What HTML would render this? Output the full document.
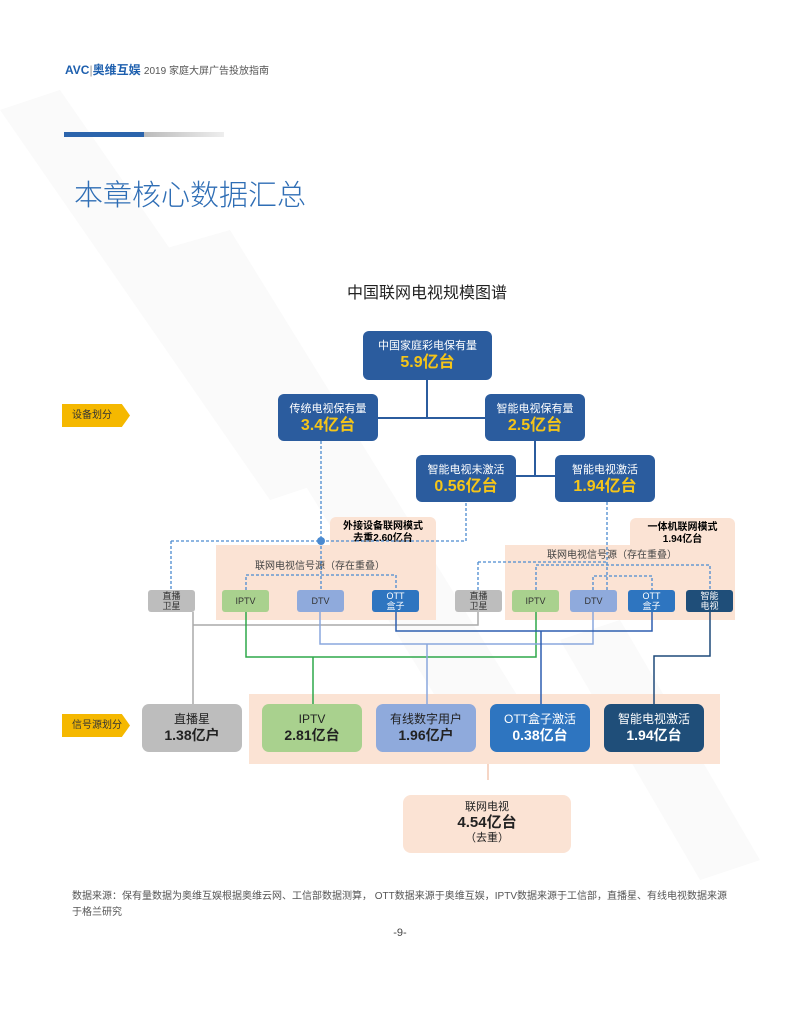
<!DOCTYPE html>
<html><head><meta charset="utf-8"><style>
body{margin:0;width:800px;height:1009px;background:#fff;position:relative;overflow:hidden;font-family:"Liberation Sans","Noto Sans CJK SC",sans-serif}
.a{position:absolute}
.b{position:absolute;border-radius:6px;text-align:center;box-sizing:border-box;color:#fff}
.n{background:#2b5c9e;font-size:11px;padding-top:8px;line-height:14px}
.n b{color:#f5c518;font-size:16px;display:block;line-height:20px}
.s{font-size:9px;line-height:10px;border-radius:3px;display:flex;align-items:center;justify-content:center;height:22px;width:47px;top:590px}
.bb{top:704px;height:48px;width:100px;font-size:12px;padding-top:8px;line-height:15px;border-radius:7px}
.bb b{font-size:14px;display:block;line-height:17px}
.peach{background:#fbe3d4}
.tag{position:absolute;width:68px;height:23px;background:#f5b800;color:#333;font-size:10px;line-height:23px;text-indent:10px;clip-path:polygon(0 0,88% 0,100% 50%,88% 100%,0 100%)}
</style></head><body>
<svg class="a" style="left:0;top:0" width="800" height="1009">
<polygon points="0,110 60,90 330,480 270,500" fill="#fafafa"/>
<polygon points="160,250 230,230 520,700 450,720" fill="#fafafa"/>
<polygon points="560,640 620,620 760,860 700,880" fill="#fafafa"/>
</svg>
<div class="a" style="left:65px;top:61px;font-size:12px;font-weight:bold;color:#1d5fae">AVC<span style="color:#999;font-weight:normal">|</span>奥维互娱 <span style="font-weight:normal;color:#555;font-size:10px">2019 家庭大屏广告投放指南</span></div>
<div class="a" style="left:64px;top:132px;width:80px;height:5px;background:#2b64ac"></div>
<div class="a" style="left:144px;top:132px;width:80px;height:5px;background:linear-gradient(90deg,#bbb,#eee)"></div>
<div class="a" style="left:74px;top:172px;font-size:29px;color:#2f6eb5;font-weight:300">本章核心数据汇总</div>
<div class="a" style="left:0;width:800px;top:279px;text-align:center;font-size:16px;color:#222;padding-left:54px;box-sizing:border-box">中国联网电视规模图谱</div>

<div class="a peach" style="left:216px;top:545px;width:220px;height:75px"></div>
<div class="a peach" style="left:330px;top:517px;width:106px;height:30px;border-radius:6px 6px 0 0;font-size:10px;font-weight:bold;text-align:center;line-height:12px;padding-top:4px;box-sizing:border-box">外接设备联网模式<br>去重2.60亿台</div>
<div class="a peach" style="left:505px;top:545px;width:230px;height:75px"></div>
<div class="a peach" style="left:630px;top:518px;width:105px;height:30px;border-radius:6px 6px 0 0;font-size:10px;font-weight:bold;text-align:center;line-height:12px;padding-top:4px;box-sizing:border-box">一体机联网模式<br>1.94亿台</div>
<div class="a" style="left:255px;top:557px;font-size:10px;color:#444">联网电视信号源（存在重叠）</div>
<div class="a" style="left:547px;top:546px;font-size:10px;color:#444">联网电视信号源（存在重叠）</div>
<div class="a peach" style="left:249px;top:694px;width:471px;height:70px"></div>

<svg class="a" style="left:0;top:0" width="800" height="1009" fill="none">
<path d="M427 380V418M378 418H485M535 441V476M516 476H555" stroke="#2b5c9e" stroke-width="2"/>
<g stroke="#4a8ad0" stroke-width="1.3" stroke-dasharray="3,2">
<path d="M321 441V590M171 541H466V502M171 541V590M607 502V590M478 562H607M478 562V590"/>
<path d="M246 590V575H396V590M536 590V565H710V590M593 590V576H652V590"/>
</g>
<circle cx="321" cy="541" r="4" fill="#4a8ad0"/>
<path d="M193 612V704M193 625H478V612" stroke="#aaa" stroke-width="1.5"/>
<path d="M246 612V657H536V612M313 657V704" stroke="#2ea84a" stroke-width="1.5"/>
<path d="M320 612V644H593V612M427 644V704" stroke="#8aa7dd" stroke-width="1.5"/>
<path d="M396 612V631H652V612M541 631V704" stroke="#2e5fb0" stroke-width="1.5"/>
<path d="M710 612V656H654V704" stroke="#1f4a7a" stroke-width="1.5"/>
<path d="M488 764V780" stroke="#f2c9b3" stroke-width="1.5"/>
</svg>

<div class="b n" style="left:363px;top:331px;width:129px;height:49px">中国家庭彩电保有量<b>5.9亿台</b></div>
<div class="b n" style="left:278px;top:394px;width:100px;height:47px">传统电视保有量<b>3.4亿台</b></div>
<div class="b n" style="left:485px;top:394px;width:100px;height:47px">智能电视保有量<b>2.5亿台</b></div>
<div class="b n" style="left:416px;top:455px;width:100px;height:47px">智能电视未激活<b>0.56亿台</b></div>
<div class="b n" style="left:555px;top:455px;width:100px;height:47px">智能电视激活<b>1.94亿台</b></div>

<div class="b s" style="left:148px;background:#bdbdbd;color:#333">直播<br>卫星</div>
<div class="b s" style="left:222px;background:#a9d18e;color:#333">IPTV</div>
<div class="b s" style="left:297px;background:#8faadc;color:#333">DTV</div>
<div class="b s" style="left:372px;background:#2e75c0">OTT<br>盒子</div>
<div class="b s" style="left:455px;background:#bdbdbd;color:#333">直播<br>卫星</div>
<div class="b s" style="left:512px;background:#a9d18e;color:#333">IPTV</div>
<div class="b s" style="left:570px;background:#8faadc;color:#333">DTV</div>
<div class="b s" style="left:628px;background:#2e75c0">OTT<br>盒子</div>
<div class="b s" style="left:686px;background:#1f4e79">智能<br>电视</div>

<div class="b bb" style="left:142px;background:#bdbdbd;color:#222">直播星<b>1.38亿户</b></div>
<div class="b bb" style="left:262px;background:#a9d18e;color:#222">IPTV<b>2.81亿台</b></div>
<div class="b bb" style="left:376px;background:#8faadc;color:#222">有线数字用户<b>1.96亿户</b></div>
<div class="b bb" style="left:490px;background:#2e75c0">OTT盒子激活<b>0.38亿台</b></div>
<div class="b bb" style="left:604px;background:#1f4e79">智能电视激活<b>1.94亿台</b></div>

<div class="b peach" style="left:403px;top:795px;width:168px;height:58px;color:#222;font-size:11px;line-height:13px;padding-top:6px;border-radius:8px">联网电视<b style="display:block;font-size:15px;line-height:18px">4.54亿台</b>（去重）</div>

<div class="tag" style="left:62px;top:404px">设备划分</div>
<div class="tag" style="left:62px;top:714px">信号源划分</div>

<div class="a" style="left:72px;top:889px;width:655px;font-size:10px;line-height:16px;color:#555">数据来源：保有量数据为奥维互娱根据奥维云网、工信部数据测算， OTT数据来源于奥维互娱，IPTV数据来源于工信部，直播星、有线电视数据来源于格兰研究</div>
<div class="a" style="left:0;width:800px;top:927px;text-align:center;font-size:11px;color:#444">-9-</div>
</body></html>
